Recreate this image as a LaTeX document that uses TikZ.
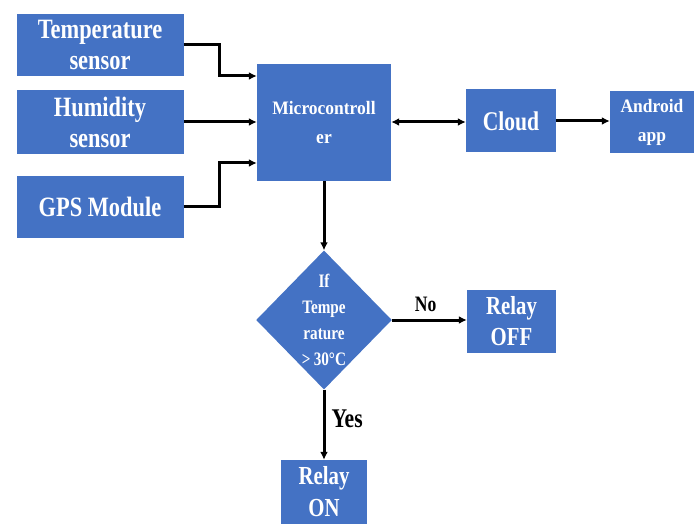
\documentclass[tikz,border=0pt]{standalone}
\usepackage{fontspec}
\usetikzlibrary{shapes.geometric,arrows.meta}
\newfontfamily\nf[FakeStretch=0.8]{Liberation Serif}
\newfontfamily\mf[FakeStretch=0.92]{Liberation Serif}
\definecolor{boxblue}{RGB}{68,114,196}
\tikzset{
  blk/.style={rectangle,fill=boxblue,text=white,inner sep=0pt,align=center},
  dia/.style={diamond,fill=boxblue,text=white,inner sep=0pt,align=center},
  arr/.style={line width=3pt,-{Latex[length=8pt,width=8pt]}},
  lbl/.style={text=black,inner sep=0pt}
}
\begin{document}
\begin{tikzpicture}[x=1pt,y=-1pt]
\useasboundingbox (0,0) rectangle (694,524);
\node[blk,minimum width=167pt,minimum height=62pt,font=\nf\bfseries\fontsize{28}{31}\selectfont] (temp) at (100,45) {Temperature\\ sensor};
\node[blk,minimum width=167pt,minimum height=64pt,font=\nf\bfseries\fontsize{28}{31}\selectfont] (hum) at (100,122) {Humidity\\ sensor};
\node[blk,minimum width=167pt,minimum height=62pt,font=\nf\bfseries\fontsize{28}{30}\selectfont] (gps) at (100,207) {GPS Module};
\node[blk,minimum width=134pt,minimum height=117pt,font=\mf\bfseries\fontsize{19}{29}\selectfont] (mc) at (324,122.5) {Microcontroll\\ er};
\node[blk,minimum width=90pt,minimum height=63pt,font=\nf\bfseries\fontsize{27}{28}\selectfont] (cloud) at (511,121) {Cloud};
\node[blk,minimum width=84pt,minimum height=62pt,font=\mf\bfseries\fontsize{19}{29}\selectfont] (android) at (652,122) {Android\\ app};
\node[dia,minimum width=132pt,minimum height=139pt,font=\nf\bfseries\fontsize{19}{26}\selectfont] (dec) at (324,320) {If\\ Tempe\\ rature\\ {>}\,30°C};
\node[blk,minimum width=89pt,minimum height=63pt,font=\nf\bfseries\fontsize{26}{31}\selectfont] (off) at (511.5,321.5) {Relay\\ OFF};
\node[blk,minimum width=86pt,minimum height=64pt,font=\nf\bfseries\fontsize{26}{32}\selectfont] (on) at (324,492) {Relay\\ ON};
\draw[arr] (temp.east) -- ++(36,0) |- ([yshift=46.5pt]mc.west);
\draw[arr] (hum.east) -- (hum.east -| mc.west);
\draw[arr] (gps.east) -- ++(36,0) |- ([yshift=-40.5pt]mc.west);
\draw[line width=3pt,{Latex[length=8pt,width=8pt]}-{Latex[length=8pt,width=8pt]}] ([yshift=0.5pt]mc.east) -- ([yshift=0.5pt]mc.east -| cloud.west);
\draw[arr] (cloud.east) -- (cloud.east -| android.west);
\draw[arr] (mc.south) -- (dec.north);
\draw[arr] (dec.east) -- (dec.east -| off.west) node[lbl,pos=0.45,above=7pt,font=\nf\bfseries\fontsize{22}{22}\selectfont] (no) {No};
\draw[arr] (dec.south) -- (on.north) node[lbl,pos=0.42,right=6pt,font=\nf\bfseries\fontsize{27}{27}\selectfont] (yes) {Yes};
\end{tikzpicture}
\end{document}
